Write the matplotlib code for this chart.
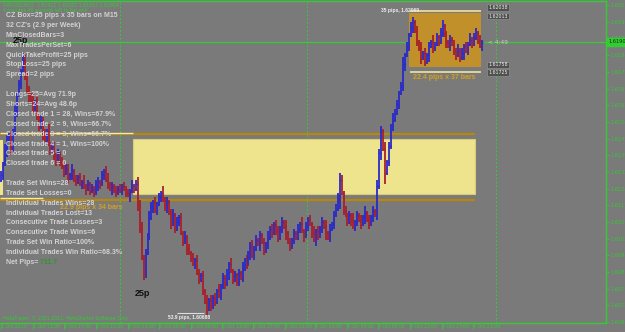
import numpy as np
import matplotlib.pyplot as plt
from matplotlib.patches import Rectangle

# GBPUSD M15 closes, pips above 1.60000
closes = [
    130, 135, 141, 146, 148, 141, 150, 159, 166, 171, 177, 182, 175, 168, 166, 164,
    160, 163, 157, 152, 155, 149, 146, 150, 144, 141, 143, 139, 137, 140, 136,
    134, 131, 133, 129, 130, 132, 128, 127, 129, 126, 127, 125, 124, 126, 123, 124, 122, 125, 127, 126,
    130, 132, 128, 126, 124, 125, 123, 122, 124, 123, 125, 124, 122, 121, 123, 125, 124, 126,
    117, 106, 93, 86, 95, 103, 111, 116,
    118, 114, 117, 120, 122, 119, 116, 118, 113, 108, 112, 106, 109, 111, 104, 100, 102, 97, 95,
    93, 90, 92, 86, 83, 85, 78, 73, 70, 74, 71,
    75, 73, 78, 76, 80, 84, 81, 86, 90, 87, 83, 85, 82, 86, 84, 88, 92, 90, 95, 98,
    94, 97, 101, 99, 103, 100, 96, 99, 102, 106, 104, 108, 105, 102, 106, 109, 107, 104, 100, 98,
    101, 104, 102, 106,
    108, 105, 103, 107, 110, 108, 104, 101, 105, 103, 106, 109, 107, 104, 102, 106, 108, 112, 115, 119,
    128, 122, 114, 112, 109, 112, 110, 107, 109, 112, 110, 108, 111, 113, 110, 108, 111, 114, 112,
    125, 140, 150, 142, 131, 136, 143, 152, 155, 158, 162, 167, 170, 180,
    184, 188, 193, 196, 199, 195, 190, 187, 183, 185, 181, 184, 188, 190, 187, 189, 192, 190, 194, 197,
    193, 190, 188, 191, 189, 186, 184, 186, 183, 185, 188, 186, 189, 191, 189, 192, 194, 191, 188, 190,
]
first_open = 128
wick_up = ("2132121312 1321213121 2121312212 1212213121 2131212132 1212312121 "
           "2121213123 2312132121 2131212312 1213121212 2121312121 3121213121 "
           "2131212312 1212131212 2121312121 2131212131 2121312122 3321212131 "
           "2121312121 3221312132 2123121321 2131212131 2123121212 1312121312 2121")
wick_dn = ("1213121231 2121312122 1312121231 2121312121 1213121212 2121213121 "
           "1212131213 2132121312 1212312121 2121312121 2121312121 1212131212 "
           "2121213121 1312121212 2121312121 1213121213 2121312121 1412121312 "
           "2121312121 2131512121 1212312121 2131213121 1212131212 2121312121 1212")

date_bars = [0, 16, 32, 48, 64, 80, 96, 111.5, 127.5, 143.5, 158.5, 174.5, 190.5, 206.5, 222.5, 238.5]
date_labels = ['2 Oct 2013', '2 Oct 13:00', '2 Oct 17:00', '2 Oct 21:00', '3 Oct 01:00',
               '3 Oct 05:00', '3 Oct 09:00', '3 Oct 13:00', '3 Oct 17:00', '3 Oct 21:00',
               '4 Oct 01:00', '4 Oct 05:00', '4 Oct 09:00', '4 Oct 13:00', '4 Oct 17:00',
               '4 Oct 21:00']
day_starts = [60, 154.5, 250]
price_labels = ['1.60640', '1.60720', '1.60790', '1.60870', '1.60940', '1.61020', '1.61090',
                '1.61170', '1.61240', '1.61320', '1.61390', '1.61470', '1.61540', '1.61620',
                '1.61690', '1.61770', '1.61840', '1.61920', '1.61990', '1.62070']

stats = ['CZ Box=25 pips x 35 bars on M15', "32 CZ's (2.9 per Week)", 'MinClosedBars=3',
         'MaxTradesPerSet=6', 'QuickTakeProfit=25 pips', 'StopLoss=25 pips', 'Spread=2 pips', '',
         'Longs=25=Avg 71.9p', 'Shorts=24=Avg 48.6p', 'Closed trade 1 = 28, Wins=67.9%',
         'Closed trade 2 = 9, Wins=66.7%', 'Closed trade 3 = 3, Wins=66.7%',
         'Closed trade 4 = 1, Wins=100%', 'Closed trade 5 = 0', 'Closed trade 6 = 0', '',
         'Trade Set Wins=28', 'Trade Set Losses=0', 'Individual Trades Wins=28',
         'Individual Trades Lost=13', 'Consecutive Trade Losses=3', 'Consecutive Trade Wins=6',
         'Trade Set Win Ratio=100%', 'Individual Trades Win Ratio=68.3%', 'Net Pips=']
net_pips = '711.7'

bg = '#7a7a7a'
green = '#33cc33'
up_col = '#2a2ac8'
dn_col = '#a8202a'

c = 1.6 + np.array(closes) / 1e4
o = np.r_[1.6 + first_open / 1e4, c[:-1]]
wu = np.array([int(ch) for ch in wick_up.replace(' ', '')]) / 1e4
wd = np.array([int(ch) for ch in wick_dn.replace(' ', '')]) / 1e4
hi = np.maximum(o, c) + wu
lo = np.minimum(o, c) - wd
x = np.arange(len(c))
cols = np.where(c >= o, up_col, dn_col)

fig = plt.figure(figsize=(6.25, 3.32), dpi=100, facecolor=bg)
ax = fig.add_axes([0, 9 / 332, 606 / 625, 322 / 332], facecolor=bg)
ax.set_xlim(-0.505, 305.56)
ax.set_ylim(1.606355, 1.620836)


def px(xp, yp):
    return (xp / 625, 1 - yp / 332)


# CZ boxes
ax.add_patch(Rectangle((66.7, 1.61216), 239.4 - 66.7, 1.61463 - 1.61216,
                       facecolor='#efe48e', edgecolor='#d8cc78', lw=0.8, zorder=1))
ax.add_patch(Rectangle((-0.5, 1.61211), 1.5, 1.61459 - 1.61211,
                       facecolor='#efe48e', lw=0, zorder=1))
ax.hlines([1.61485, 1.61189], -0.5, 239.4, color='#b8860b', lw=1.6, zorder=2)
ax.hlines(1.61492, -0.5, 66.5, color='#f3eba8', lw=1.0, zorder=2)
ax.hlines(1.61196, -0.5, 21, color='#f3eba8', lw=1.0, zorder=2)
ax.add_patch(Rectangle((206, 1.61787), 242.4 - 206, 1.62030 - 1.61787,
                       facecolor='#c1902a', lw=0, zorder=1))
ax.hlines([1.62040, 1.61764], 206.5, 242.4, color='#efe4a0', lw=1.2, zorder=2)

# day separators, bid line
for d in day_starts:
    ax.axvline(d, color=green, lw=0.7, ls=(0, (2, 2)), zorder=0.5)
ax.axhline(c[-1], color=green, lw=0.9, zorder=0.6)

# OHLC bars
ax.vlines(x, lo, hi, colors=cols, lw=1.3, zorder=3)
ax.hlines(o, x - 0.5, x, colors=cols, lw=1.0, zorder=3)
ax.hlines(c, x, x + 0.5, colors=cols, lw=1.0, zorder=3)

# axes styling
ax.spines['left'].set_visible(False)
for s in ['right', 'bottom', 'top']:
    ax.spines[s].set_color(green)
    ax.spines[s].set_linewidth(1.0)
ax.set_xticks(date_bars, date_labels, fontsize=3.3, color=green, ha='left')
ax.tick_params(axis='x', colors=green, length=4, width=0.6, pad=-3.2)
ax.yaxis.tick_right()
ax.set_yticks([1.6064 + 0.00075 * k for k in range(len(price_labels))], price_labels)
ax.tick_params(axis='y', colors=green, labelsize=3.6, length=2, width=0.6, pad=1)

# text panel
tf = dict(family='Liberation Sans', weight='bold', color='#d2d2d2', fontsize=5.0,
          va='center', ha='left', transform=fig.transFigure, zorder=10)
last = None
for k, line in enumerate(stats):
    if line:
        last = fig.text(*px(6, 15.5 + 9.88 * k), line, **tf)
ax.annotate(' ' + net_pips, xy=(1, 0.5), xycoords=last, va='center', ha='left',
            family='Liberation Sans', weight='bold', color='#2a9a2a', fontsize=5.0)

fig.text(*px(3, 5), 'GBPUSD,M15  1.61912 1.61922 1.61912 1.61904', color=green,
         fontsize=3.3, va='center', transform=fig.transFigure)
fig.text(*px(3, 10.5), '4 minutes 49 seconds left to bar end', color=green,
         fontsize=3.3, va='center', transform=fig.transFigure)
fig.text(*px(3, 318), 'MetaTrader, \u00a9 2001-2012, MetaQuotes Software Corp.', color=green,
         fontsize=3.3, va='center', transform=fig.transFigure)

bold = dict(family='Liberation Sans', weight='bold')
ax.text(10, 1.61904, '25p', color='#111111', fontsize=6.5, ha='center', va='center', **bold)
ax.text(71.2, 1.60766, '25p', color='#111111', fontsize=6.5, ha='center', va='center', **bold)
ax.text(105.6, 1.60662, '53.9 pips, 1.60688', color='#eeeeee', fontsize=3.6, ha='right',
        va='center', **bold)
ax.hlines(1.60681, 89, 102.5, color='#dddddd', lw=0.8)
ax.text(30, 1.61154, '22.9 pips x 34 bars', color='#d4a020', fontsize=5.0, ha='left',
        va='center', zorder=5, **bold)
ax.text(224, 1.61738, '22.4 pips x 37 bars', color='#d4a020', fontsize=5.0, ha='center',
        va='center', **bold)
ax.text(211, 1.62040, '35 pips, 1.62069', color='#eeeeee', fontsize=3.6, ha='right',
        va='center', **bold)
ax.text(246, 1.61896, '< 4:49', color='#cccccc', fontsize=4.2, ha='left', va='center')
for yv, lab in [(1.62055, '1.62038'), (1.62016, '1.62013'), (1.61796, '1.61758'),
                (1.61764, '1.61725')]:
    ax.text(246, yv, lab, color='#eeeeee', fontsize=3.4, ha='left', va='center',
            bbox=dict(boxstyle='square,pad=0.2', fc='#505050', ec='#999999', lw=0.4))
ax.annotate('1.61904', xy=(1.0, c[-1]), xycoords=('axes fraction', 'data'),
            xytext=(2, 0), textcoords='offset points', fontsize=3.6, color='#103010',
            va='center', ha='left', annotation_clip=False,
            bbox=dict(boxstyle='square,pad=0.3', fc=green, ec=green))

fig.savefig('out.png', dpi=100, facecolor=bg)
